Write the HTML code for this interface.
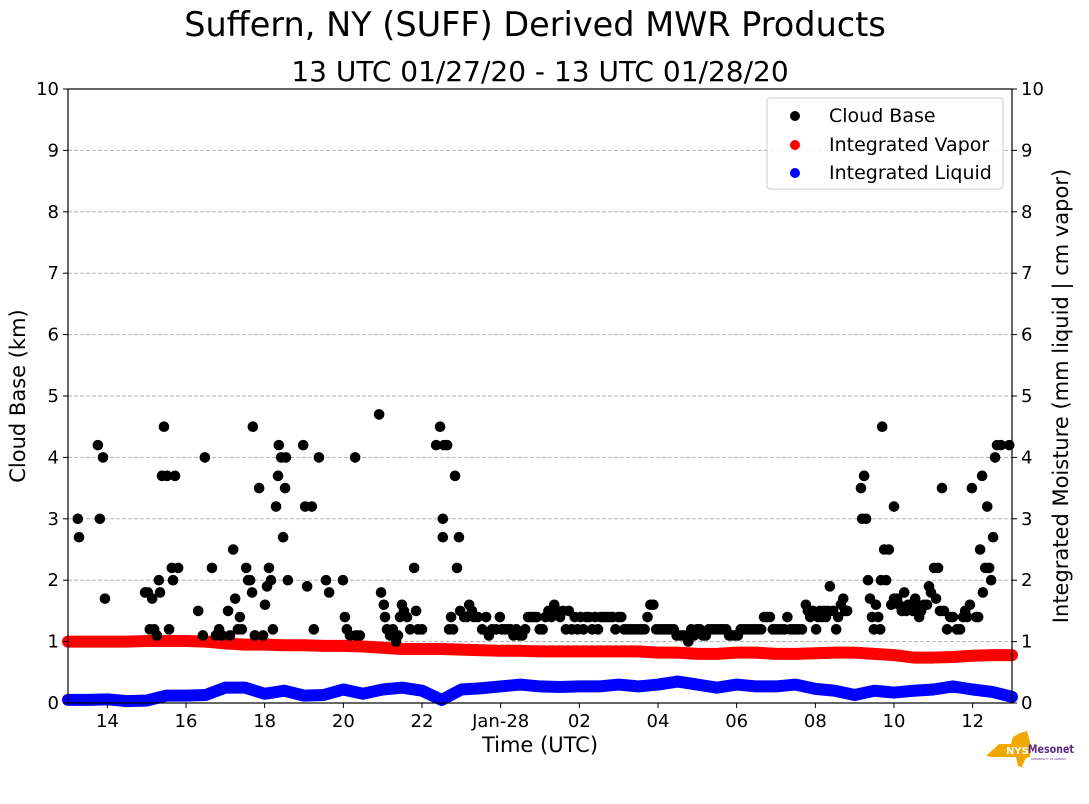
<!DOCTYPE html>
<html><head><meta charset="utf-8"><style>
body{margin:0;background:#fff;}
svg{display:block;font-family:"DejaVu Sans","Liberation Sans",sans-serif;}
</style></head><body>
<svg id="chart" width="1089" height="804" viewBox="0 0 1089 804">
<text x="535" y="36" font-size="33.5" text-anchor="middle">Suffern, NY (SUFF) Derived MWR Products</text>
<text x="540" y="81" font-size="28" text-anchor="middle">13 UTC 01/27/20 - 13 UTC 01/28/20</text>
<g id="grid"></g>
<g id="liq"></g>
<g id="vap"></g>
<g id="cb"></g>
<g id="axes"></g>
<text x="0" y="0" font-size="21" text-anchor="middle" transform="translate(25,396) rotate(-90)">Cloud Base (km)</text>
<text x="0" y="0" font-size="21" text-anchor="middle" transform="translate(1068,396) rotate(-90)">Integrated Moisture (mm liquid | cm vapor)</text>
<text x="540" y="752" font-size="21" text-anchor="middle">Time (UTC)</text>
<g>
<rect x="767" y="98" width="236" height="91" rx="3" fill="#fff" fill-opacity="0.85" stroke="#ccc"/>
<g><circle cx="795" cy="116" r="5" fill="#000"/><text x="829" y="122" font-size="19">Cloud Base</text></g>
<g><circle cx="795" cy="145" r="5" fill="#f00"/><text x="829" y="151" font-size="19">Integrated Vapor</text></g>
<g><circle cx="795" cy="173" r="5" fill="#00f"/><text x="829" y="179" font-size="19">Integrated Liquid</text></g>
</g>
<g>
<path d="M999 744 L1011 744 L1013 737 L1020 733 L1027 731 L1030 742 L1030 757 L1026 758 L1022 766 L1024 768 L1018 766 L1016 757 L992 757 L986 756 Z" fill="#f0a800"/>
<text x="1006" y="754" font-size="10" font-weight="bold" fill="#fff">NYS</text>
<text x="1028" y="753" font-size="11.5" font-weight="bold" fill="#5b2a82" textLength="46" lengthAdjust="spacingAndGlyphs">Mesonet</text>
<text x="1031" y="760" font-size="3" fill="#5b2a82">UNIVERSITY AT ALBANY</text>
</g>
</svg>
<script>
const tickLabels=["14","16","18","20","22","Jan-28","02","04","06","08","10","12"];
const tickHours=[1,3,5,7,9,11,13,15,17,19,21,23];
const yTicks=[0,1,2,3,4,5,6,7,8,9,10];
// vapor & liquid sampled every 0.5 h from 13 UTC
const vapor=[1.0,1.0,1.0,1.0,1.01,1.01,1.01,1.0,0.97,0.95,0.95,0.94,0.94,0.93,0.93,0.92,0.9,0.88,0.88,0.88,0.87,0.86,0.85,0.85,0.84,0.84,0.84,0.84,0.84,0.84,0.82,0.82,0.8,0.8,0.82,0.82,0.8,0.8,0.81,0.82,0.82,0.8,0.78,0.74,0.74,0.75,0.77,0.78,0.78];
const liquid=[0.05,0.05,0.06,0.03,0.04,0.12,0.12,0.13,0.25,0.25,0.15,0.2,0.12,0.13,0.22,0.15,0.22,0.25,0.2,0.05,0.22,0.24,0.27,0.3,0.27,0.26,0.27,0.27,0.3,0.27,0.3,0.35,0.3,0.25,0.3,0.27,0.27,0.3,0.23,0.2,0.13,0.2,0.17,0.2,0.22,0.27,0.22,0.18,0.1];
const cbTimesA=[0.25,0.28,0.76,0.81,0.89,0.94,1.96,2.03,2.08,2.14,2.19,2.26,2.31,2.34,2.39,2.44,2.52,2.57,2.64,2.67,2.72,2.80,3.31,3.43,3.48,3.66,3.76,3.84,3.92,4.07,4.12,4.20,4.25,4.32,4.37,4.42,4.53,4.58,4.63,4.68,4.70,4.75,4.86,4.96,5.01,5.06,5.11,5.16,5.21,5.29,5.34,5.36,5.42,5.47,5.52,5.54,5.59,5.98,6.03,6.08,6.20,6.25,6.38,6.56,6.64,6.99,7.04,7.09,7.17,7.30,7.32,7.42,7.91,7.96,8.03,8.06,8.11,8.19,8.26,8.34,8.39,8.44,8.49,8.54,8.62,8.70,8.80,8.85,8.90,9.00,9.36,9.46,9.53,9.53,9.56,9.64,9.69,9.74,9.79,9.84,9.89,9.94,9.97,10.07,10.14,10.20,10.27,10.32,10.42,10.53,10.63,10.70,10.78,10.88,10.98];
const cbValsA=[3.0,2.7,4.2,3.0,4.0,1.7,1.8,1.8,1.2,1.7,1.2,1.1,2.0,1.8,3.7,4.5,3.7,1.2,2.2,2.0,3.7,2.2,1.5,1.1,4.0,2.2,1.1,1.2,1.1,1.5,1.1,2.5,1.7,1.2,1.4,1.2,2.2,2.0,2.0,1.8,4.5,1.1,3.5,1.1,1.6,1.9,2.2,2.0,1.2,3.2,3.7,4.2,4.0,2.7,3.5,4.0,2.0,4.2,3.2,1.9,3.2,1.2,4.0,2.0,1.8,2.0,1.4,1.2,1.1,4.0,1.1,1.1,4.7,1.8,1.6,1.4,1.2,1.1,1.2,1.0,1.1,1.4,1.6,1.5,1.4,1.2,2.2,1.5,1.2,1.2,4.2,4.5,3.0,2.7,4.2,4.2,1.2,1.4,1.2,3.7,2.2,2.7,1.5,1.4,1.4,1.6,1.5,1.4,1.4,1.2,1.4,1.1,1.2,1.2,1.4];
// regularly sampled dense stretch
const cbDenseStart=11.03, cbDenseEnd=18.66;
const cbDense=[1.2,1.2,1.2,1.2,1.1,1.2,1.1,1.1,1.2,1.4,1.4,1.4,1.4,1.2,1.2,1.4,1.5,1.4,1.6,1.5,1.4,1.5,1.2,1.5,1.2,1.4,1.2,1.4,1.2,1.4,1.4,1.2,1.4,1.2,1.4,1.4,1.4,1.4,1.4,1.2,1.4,1.4,1.2,1.2,1.2,1.2,1.2,1.2,1.2,1.2,1.4,1.6,1.6,1.2,1.2,1.2,1.2,1.2,1.2,1.2,1.1,1.1,1.1,1.1,1.0,1.2,1.1,1.2,1.2,1.1,1.1,1.2,1.2,1.2,1.2,1.2,1.2,1.2,1.1,1.1,1.1,1.1,1.2,1.2,1.2,1.2,1.2,1.2,1.2,1.2,1.4,1.4,1.4,1.2,1.2,1.2,1.2,1.2,1.4,1.2,1.2,1.2,1.2,1.2];
const cbTimesB=[18.76,18.81,18.87,18.94,19.02,19.07,19.12,19.17,19.22,19.27,19.32,19.37,19.45,19.53,19.58,19.65,19.71,19.76,19.81,20.16,20.19,20.24,20.29,20.34,20.39,20.44,20.49,20.54,20.60,20.65,20.67,20.70,20.75,20.80,20.87,20.93,21.00,21.00,21.08,21.13,21.20,21.26,21.31,21.36,21.41,21.48,21.54,21.59,21.64,21.69,21.76,21.84,21.89,21.94,22.02,22.07,22.12,22.17,22.22,22.27,22.35,22.43,22.50,22.60,22.68,22.76,22.81,22.86,22.93,22.98,23.09,23.14,23.19,23.24,23.26,23.32,23.37,23.42,23.47,23.52,23.57,23.62,23.72,23.93];
const cbValsB=[1.6,1.5,1.4,1.5,1.2,1.4,1.5,1.4,1.5,1.4,1.5,1.9,1.5,1.2,1.4,1.6,1.7,1.5,1.5,3.5,3.0,3.7,3.0,2.0,1.7,1.4,1.2,1.6,1.4,1.2,2.0,4.5,2.5,2.0,2.5,1.6,3.2,1.7,1.7,1.6,1.5,1.8,1.5,1.6,1.6,1.5,1.7,1.6,1.4,1.5,1.6,1.6,1.9,1.8,2.2,1.7,2.2,1.5,3.5,1.5,1.2,1.4,1.4,1.2,1.2,1.4,1.5,1.4,1.6,3.5,1.4,1.4,2.5,3.7,1.8,2.2,3.2,2.2,2.0,2.7,4.0,4.2,4.2,4.2];

const L=68,R=1012,T=89,B=703;
const xs=h=>L+(R-L)*h/24;
const ys=v=>B-(B-T)*v/10;
const NS="http://www.w3.org/2000/svg";
function mk(tag,parent,attrs){const e=document.createElementNS(NS,tag);for(const k in attrs)e.setAttribute(k,attrs[k]);parent.appendChild(e);return e;}
const grid=document.getElementById('grid'),axes=document.getElementById('axes');
yTicks.forEach(v=>{
  if(v>0&&v<10){const g=mk('line',grid,{x1:L,x2:R,y1:ys(v),y2:ys(v),stroke:'#b0b0b0','stroke-dasharray':'4,2','stroke-width':1});
  
  }
  const t1=mk('line',axes,{x1:L-5,x2:L,y1:ys(v),y2:ys(v),stroke:'#000'});
  
  
  const l1=mk('text',axes,{x:L-9,y:ys(v)+6,'font-size':18,'text-anchor':'end'});l1.textContent=v;
  
  
  const t2=mk('line',axes,{x1:R,x2:R+5,y1:ys(v),y2:ys(v),stroke:'#000'});
  
  
  const l2=mk('text',axes,{x:R+9,y:ys(v)+6,'font-size':18});l2.textContent=v;
  
  
});
tickHours.forEach((h,i)=>{
  const t=mk('line',axes,{x1:xs(h),x2:xs(h),y1:B,y2:B+5,stroke:'#000'});
  
  
  const l=mk('text',axes,{x:xs(h),y:B+24,'font-size':18,'text-anchor':'middle'});l.textContent=tickLabels[i];
  
  
});
const frame=mk('rect',axes,{x:L,y:T,width:R-L,height:B-T,fill:'none',stroke:'#000','stroke-width':1.2});


function band(arr,g,color,name){
  const pts=arr.map((v,i)=>xs(i*0.5)+','+ys(v)).join(' ');
  const p=mk('polyline',g,{points:pts,fill:'none',stroke:color,'stroke-width':12,'stroke-linecap':'round','stroke-linejoin':'round'});
  
  
}
band(liquid,document.getElementById('liq'),'#00f','liquid-band');
band(vapor,document.getElementById('vap'),'#f00','vapor-band');
const cb=document.getElementById('cb');
function dot(h,v){const c=mk('circle',cb,{cx:xs(h),cy:ys(v),r:5.3,fill:'#000'});
  
  }
cbTimesA.forEach((h,i)=>dot(h,cbValsA[i]));
cbDense.forEach((v,i)=>dot(cbDenseStart+(cbDenseEnd-cbDenseStart)*i/(cbDense.length-1),v));
cbTimesB.forEach((h,i)=>dot(h,cbValsB[i]));
</script>
</body></html>
